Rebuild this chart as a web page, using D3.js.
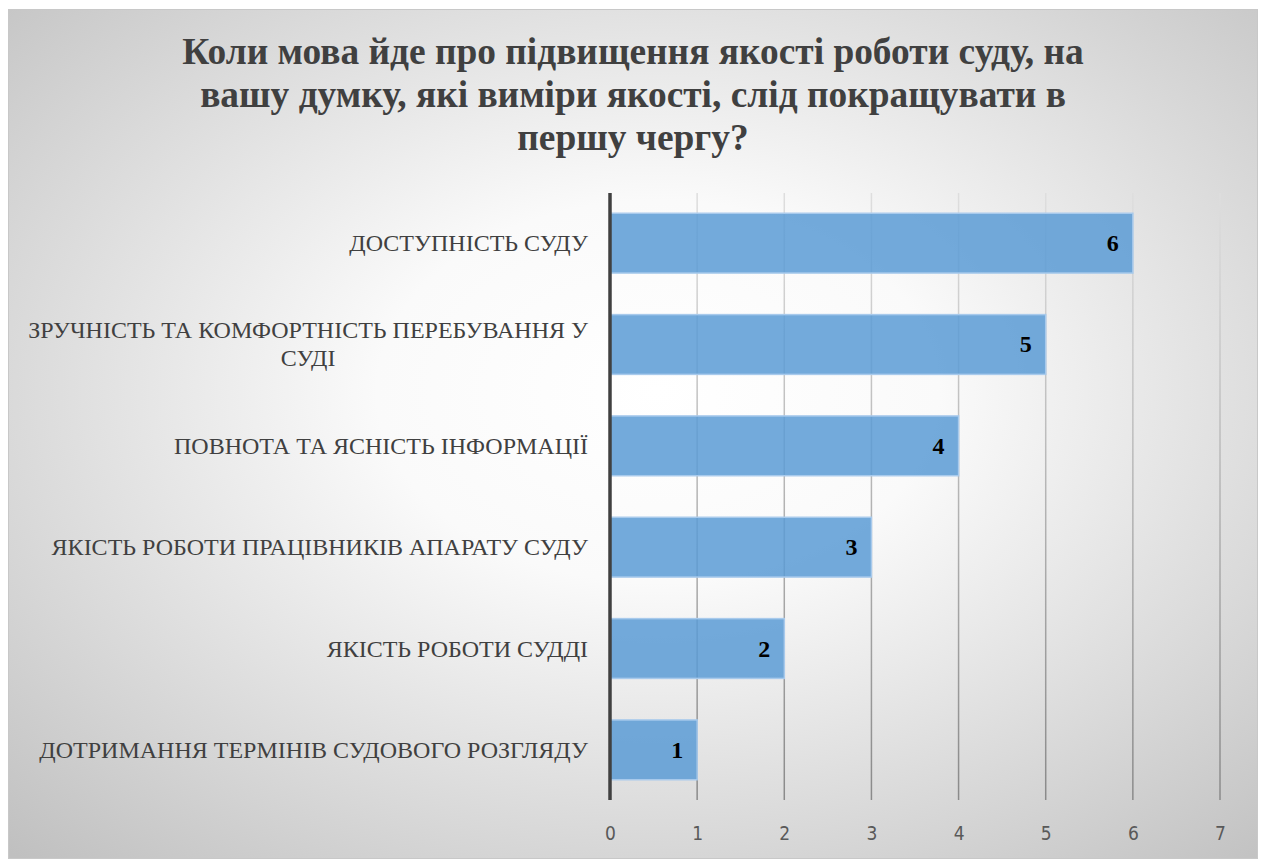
<!DOCTYPE html>
<html>
<head>
<meta charset="utf-8">
<script src="https://cdn.jsdelivr.net/npm/d3@7"></script>
<style>
  body { margin: 0; background: #fff; }
</style>
</head>
<body>
<div id="chart"></div>
<script>
var categories = [
    "ДОСТУПНІСТЬ СУДУ",
    "ЗРУЧНІСТЬ ТА КОМФОРТНІСТЬ ПЕРЕБУВАННЯ У|СУДІ",
    "ПОВНОТА ТА ЯСНІСТЬ ІНФОРМАЦІЇ",
    "ЯКІСТЬ РОБОТИ ПРАЦІВНИКІВ АПАРАТУ СУДУ",
    "ЯКІСТЬ РОБОТИ СУДДІ",
    "ДОТРИМАННЯ ТЕРМІНІВ СУДОВОГО РОЗГЛЯДУ"
];
var values = [6, 5, 4, 3, 2, 1];
var tickValues = [0, 1, 2, 3, 4, 5, 6, 7];
var titleLines = [
    "Коли мова йде про підвищення якості роботи суду, на",
    "вашу думку, які виміри якості, слід покращувати в",
    "першу чергу?"
];

var width = 1262, height = 860;
var plotLeft = 610, plotRight = 1220, plotTop = 193, plotBottom = 800;
var serif = "'Liberation Serif', 'Times New Roman', serif";
var labelSize = "24px";

var svg = d3.select("#chart").append("svg")
        .attr("width", width)
        .attr("height", height);

var defs = svg.append("defs");
var bg = defs.append("radialGradient")
        .attr("id", "bg")
        .attr("cx", "0.52").attr("cy", "0.45").attr("r", "0.75");
bg.append("stop").attr("offset", "0").attr("stop-color", "#ffffff");
bg.append("stop").attr("offset", "0.3").attr("stop-color", "#fafafa");
bg.append("stop").attr("offset", "1").attr("stop-color", "#c0c0c0");

var gridGrad = defs.append("linearGradient")
        .attr("id", "grid")
        .attr("gradientUnits", "userSpaceOnUse")
        .attr("x1", 0).attr("y1", plotTop).attr("x2", 0).attr("y2", plotBottom);
gridGrad.append("stop").attr("offset", "0").attr("stop-color", "#dedede");
gridGrad.append("stop").attr("offset", "1").attr("stop-color", "#8a8a8a");

// chart area
svg.append("rect")
        .attr("x", 8.5).attr("y", 9.5)
        .attr("width", 1249).attr("height", 849)
        .attr("fill", "url(#bg)")
        .attr("stroke", "#c8c8c8")
        .attr("stroke-width", 1);

// title
svg.append("g").selectAll("text")
        .data(titleLines)
        .enter().append("text")
        .attr("x", 633)
        .attr("y", function(d, i) { return 64 + i * 43; })
        .attr("text-anchor", "middle")
        .attr("font-family", serif)
        .attr("font-weight", "bold")
        .attr("font-size", "37.4px")
        .attr("fill", "#404040")
        .text(function(d) { return d; });

var x = d3.scaleLinear().domain([0, 7]).range([plotLeft, plotRight]);
var y = d3.scaleBand().domain(categories).range([plotTop, plotBottom]).paddingInner(0.41).paddingOuter(0.2);

// gridlines
svg.append("g").selectAll("line")
        .data(tickValues.filter(function(d) { return d > 0; }))
        .enter().append("line")
        .attr("x1", function(d) { return x(d); })
        .attr("x2", function(d) { return x(d); })
        .attr("y1", plotTop)
        .attr("y2", plotBottom)
        .attr("stroke", "url(#grid)")
        .attr("stroke-width", 1.5);

// bars
svg.append("g").selectAll("rect")
        .data(values)
        .enter().append("rect")
        .attr("x", x(0))
        .attr("y", function(d, i) { return y(categories[i]); })
        .attr("width", function(d) { return x(d) - x(0); })
        .attr("height", y.bandwidth())
        .attr("fill", "#5b9bd5")
        .attr("fill-opacity", 0.85)
        .attr("stroke", "#a8caec")
        .attr("stroke-width", 1.5);

// value labels
svg.append("g").selectAll("text")
        .data(values)
        .enter().append("text")
        .attr("x", function(d) { return x(d) - 14; })
        .attr("y", function(d, i) { return y(categories[i]) + y.bandwidth() / 2 + 8; })
        .attr("text-anchor", "end")
        .attr("font-family", serif)
        .attr("font-weight", "bold")
        .attr("font-size", "24px")
        .attr("fill", "#000")
        .text(function(d) { return d; });

// category labels
categories.forEach(function(c, i) {
    var lines = c.split("|");
    var cy = y(c) + y.bandwidth() / 2;
    var t = svg.append("text")
            .attr("font-family", serif)
            .attr("font-size", labelSize)
            .attr("fill", "#404040");
    if (lines.length === 1) {
        t.attr("x", 588).attr("y", cy + 8).attr("text-anchor", "end").text(c);
    } else {
        var tmp = svg.append("text")
                .attr("font-family", serif)
                .attr("font-size", labelSize)
                .text(lines[0]);
        var w = tmp.node().getComputedTextLength();
        tmp.remove();
        var mid = 588 - w / 2;
        t.attr("text-anchor", "middle");
        lines.forEach(function(l, j) {
            t.append("tspan")
                    .attr("x", mid)
                    .attr("y", cy - 6 + j * 28)
                    .text(l);
        });
    }
});

// y axis line
svg.append("line")
        .attr("x1", x(0)).attr("x2", x(0))
        .attr("y1", plotTop).attr("y2", plotBottom)
        .attr("stroke", "#404040")
        .attr("stroke-width", 3.5);

// x tick labels
var xAxis = svg.append("g")
        .attr("transform", "translate(0," + plotBottom + ")")
        .call(d3.axisBottom(x).tickValues(tickValues).tickFormat(d3.format("d")).tickSize(0).tickPadding(0));
xAxis.select(".domain").remove();
xAxis.selectAll("text")
        .attr("y", 40)
        .attr("dy", null)
        .attr("font-family", "'DejaVu Sans Condensed', 'DejaVu Sans', sans-serif")
        .attr("font-size", "19px")
        .attr("fill", "#595959");
</script>
</body>
</html>
